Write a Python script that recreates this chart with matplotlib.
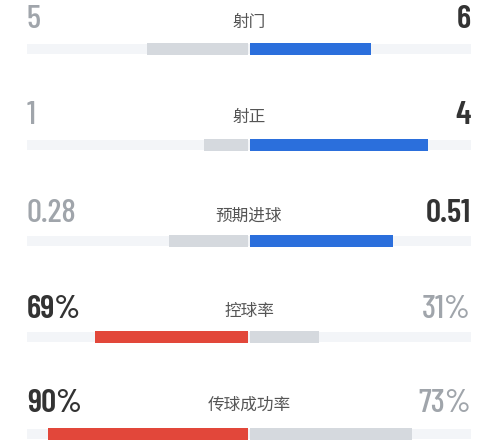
import matplotlib
matplotlib.use("Agg")
import matplotlib.pyplot as plt
from matplotlib import font_manager

labels = ["射门", "射正", "预期进球", "控球率", "传球成功率"]
home_vals = [5, 1, 0.28, 69, 90]
away_vals = [6, 4, 0.51, 31, 73]
home_text = ["5", "1", "0.28", "69%", "90%"]
away_text = ["6", "4", "0.51", "31%", "73%"]
is_pct = [False, False, False, True, True]
home_color = ["#d5d9de", "#d5d9de", "#d5d9de", "#e2473a", "#e2473a"]
away_color = ["#2b6fdc", "#2b6fdc", "#2b6fdc", "#d5d9de", "#d5d9de"]

names = {f.name for f in font_manager.fontManager.ttflist}
num_font = "DejaVu Sans"
for cand in ["Barlow Condensed", "Roboto Condensed", "Saira Condensed",
             "Archivo Narrow", "Oswald"]:
    if cand in names:
        num_font = cand
        break
cjk = ["Noto Sans CJK SC", "DejaVu Sans"]

fig = plt.figure(figsize=(5, 4.4), dpi=100)
ax = fig.add_axes([0, 0, 1, 1])
ax.set_xlim(0, 500)
ax.set_ylim(440, 0)
ax.axis("off")

cx, half = 249, 222
left, right = cx - half, cx + half
text_y = [20, 115, 214, 309, 403]
bar_y = [49, 145, 241, 337, 434]
bh = 12

for i in range(len(labels)):
    h, a = home_vals[i], away_vals[i]
    tot = 100 if is_pct[i] else h + a
    hw = h / tot * half
    aw = a / tot * half
    # track
    ax.barh(bar_y[i], 2 * half, left=left, height=bh - 2, color="#f3f5f8")
    ax.barh(bar_y[i], hw, left=cx - 1 - hw, height=bh, color=home_color[i])
    ax.barh(bar_y[i], aw, left=cx + 1, height=bh, color=away_color[i])
    hc, hwt = ("#333333", "semibold") if h > a else ("#a0a5ab", "medium")
    ac, awt = ("#333333", "semibold") if a > h else ("#a0a5ab", "medium")
    ax.text(left, text_y[i], home_text[i], fontsize=24, family=num_font,
            color=hc, weight=hwt, ha="left", va="center")
    ax.text(right, text_y[i], away_text[i], fontsize=24, family=num_font,
            color=ac, weight=awt, ha="right", va="center")
    ax.text(cx, text_y[i] + 2, labels[i], fontsize=12, family=cjk,
            color="#555555", ha="center", va="center")

fig.savefig("out.png", dpi=100, facecolor="white")
